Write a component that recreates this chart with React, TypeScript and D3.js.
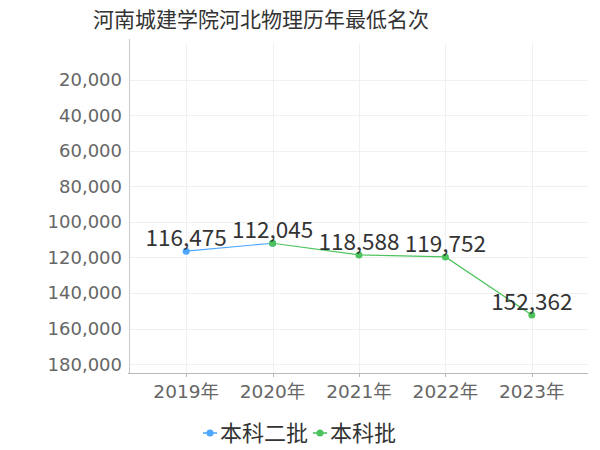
import { useEffect, useRef } from "react";
import * as d3 from "d3";

const title = "河南城建学院河北物理历年最低名次";
const years = ["2019年", "2020年", "2021年", "2022年", "2023年"];
const seriesNames = ["本科二批", "本科批"];
const erpiValues: (number | null)[] = [116475, 112045, null, null, null];
const benkeValues: (number | null)[] = [null, 112045, 118588, 119752, 152362];
const yTicks = [20000, 40000, 60000, 80000, 100000, 120000, 140000, 160000, 180000];
const colors = ["#4da6ff", "#4cc35c"];

const FONT = "'Noto Sans CJK SC', 'Noto Sans', sans-serif";
const AXIS_FONT = "'DejaVu Sans', 'Noto Sans CJK SC', sans-serif";

export default function App() {
  const ref = useRef<SVGSVGElement>(null);

  useEffect(() => {
    if (!ref.current) return;
    const width = 600;
    const height = 450;
    const left = 130;
    const right = 588;
    const top = 43;
    const bottom = 373;

    const svg = d3.select(ref.current);
    svg.selectAll("*").remove();
    svg.attr("width", width).attr("height", height);

    svg
      .append("rect")
      .attr("width", width)
      .attr("height", height)
      .attr("fill", "#fff");

    const x = d3.scalePoint<string>().domain(years).range([left, right]).padding(0.65);
    const y = d3.scaleLinear().domain([0, 185000]).range([top + 1, bottom]);

    // grid
    const grid = svg.append("g");
    grid
      .selectAll("line.h")
      .data(yTicks)
      .enter()
      .append("line")
      .attr("x1", left)
      .attr("x2", right)
      .attr("y1", (d) => Math.round(y(d)) + 0.5)
      .attr("y2", (d) => Math.round(y(d)) + 0.5)
      .attr("stroke", "#f0f0f0");
    grid
      .selectAll("line.v")
      .data(years)
      .enter()
      .append("line")
      .attr("x1", (d) => Math.round(x(d)!) + 0.5)
      .attr("x2", (d) => Math.round(x(d)!) + 0.5)
      .attr("y1", top)
      .attr("y2", bottom)
      .attr("stroke", "#f0f0f0");

    // axes
    svg
      .append("line")
      .attr("x1", left - 0.5)
      .attr("x2", left - 0.5)
      .attr("y1", top - 4)
      .attr("y2", bottom)
      .attr("stroke", "#c8c8c8");
    svg
      .append("line")
      .attr("x1", left - 2)
      .attr("x2", right)
      .attr("y1", bottom + 0.5)
      .attr("y2", bottom + 0.5)
      .attr("stroke", "#b8b8b8");
    svg
      .selectAll("line.xt")
      .data(years)
      .enter()
      .append("line")
      .attr("x1", (d) => Math.round(x(d)!) + 0.5)
      .attr("x2", (d) => Math.round(x(d)!) + 0.5)
      .attr("y1", bottom)
      .attr("y2", bottom + 4)
      .attr("stroke", "#b8b8b8");

    svg
      .selectAll("text.yt")
      .data(yTicks)
      .enter()
      .append("text")
      .attr("x", 122)
      .attr("y", (d) => y(d))
      .attr("dy", "0.36em")
      .attr("text-anchor", "end")
      .attr("font-family", AXIS_FONT)
      .attr("font-size", 18)
      .attr("fill", "#666")
      .text((d) => d3.format(",")(d));

    svg
      .selectAll("text.xt")
      .data(years)
      .enter()
      .append("text")
      .attr("x", (d) => x(d)!)
      .attr("y", 398)
      .attr("text-anchor", "middle")
      .attr("font-family", AXIS_FONT)
      .attr("font-size", 18.5)
      .attr("fill", "#666")
      .text((d) => d);

    const series = [erpiValues, benkeValues];
    series.forEach((vals, i) => {
      const pts = years
        .map((yr, j) => ({ yr, v: vals[j] }))
        .filter((p) => p.v != null) as { yr: string; v: number }[];
      const line = d3
        .line<{ yr: string; v: number }>()
        .x((p) => x(p.yr)!)
        .y((p) => y(p.v));
      svg
        .append("path")
        .attr("d", line(pts))
        .attr("fill", "none")
        .attr("stroke", colors[i])
        .attr("stroke-width", 1.2);
      svg
        .selectAll(`circle.s${i}`)
        .data(pts)
        .enter()
        .append("circle")
        .attr("cx", (p) => x(p.yr)!)
        .attr("cy", (p) => y(p.v))
        .attr("r", 3.5)
        .attr("fill", colors[i]);
    });

    // data labels (one per year)
    const labels = years.map((yr, j) => ({ yr, v: (benkeValues[j] ?? erpiValues[j]) as number }));
    svg
      .selectAll("text.lbl")
      .data(labels)
      .enter()
      .append("text")
      .attr("x", (p) => x(p.yr)!)
      .attr("y", (p) => y(p.v) - 5)
      .attr("text-anchor", "middle")
      .attr("font-family", FONT)
      .attr("font-size", 22.5)
      .attr("fill", "#333")
      .text((p) => d3.format(",")(p.v));

    svg
      .append("text")
      .attr("x", 261)
      .attr("y", 27)
      .attr("text-anchor", "middle")
      .attr("font-family", FONT)
      .attr("font-size", 21)
      .attr("fill", "#333")
      .text(title);

    // legend
    const legendX = [203, 313];
    seriesNames.forEach((name, i) => {
      const g = svg.append("g").attr("transform", `translate(${legendX[i]},433)`);
      g.append("line")
        .attr("x1", 0)
        .attr("x2", 14)
        .attr("stroke", colors[i])
        .attr("stroke-opacity", 0.8)
        .attr("stroke-width", 2);
      g.append("circle").attr("cx", 7).attr("r", 3.5).attr("fill", colors[i]);
      g.append("text")
        .attr("x", 17)
        .attr("dy", "0.35em")
        .attr("font-family", FONT)
        .attr("font-size", 22)
        .attr("fill", "#333")
        .text(name);
    });
  }, []);

  return <svg ref={ref} style={{ display: "block", position: "absolute", left: 0, top: 0 }} />;
}
